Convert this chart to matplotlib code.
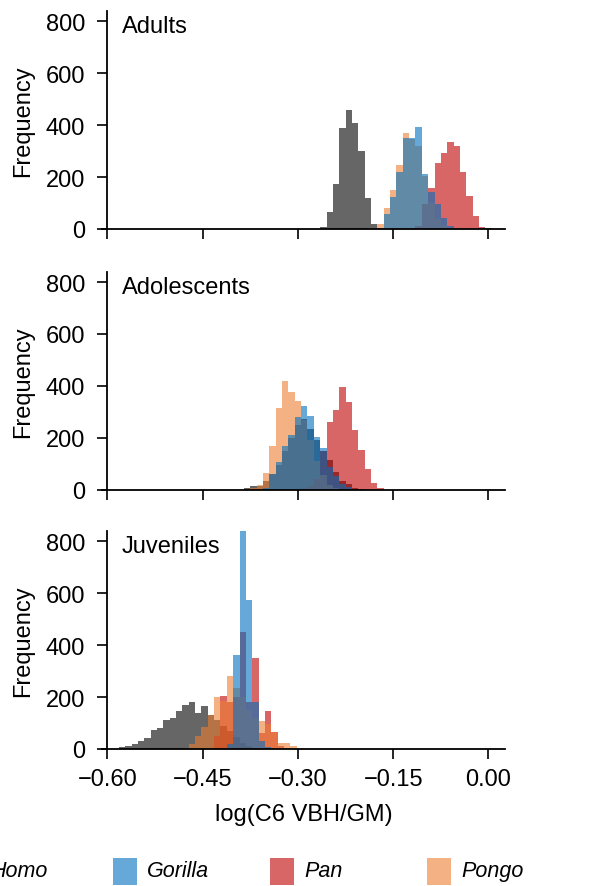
import numpy as np
import matplotlib
matplotlib.use("Agg")
import matplotlib.pyplot as plt
from matplotlib.patches import Rectangle

plt.rcParams['font.family'] = ['Liberation Sans', 'DejaVu Sans']

species = ["Homo", "Gorilla", "Pan", "Pongo"]
colors = {"Homo": "#000000", "Gorilla": "#0070C0", "Pan": "#C00000", "Pongo": "#ED7D31"}
draw_order = ["Homo", "Pan", "Pongo", "Gorilla"]
panel_names = ["Adults", "Adolescents", "Juveniles"]
bin_width = 0.01

# ---- Adults: bins start at -0.265 ----
adult_start = -0.265
adult_homo    = [7, 64, 173, 388, 460, 408, 302, 120, 19, 0, 0, 0, 0, 0, 0, 0, 0, 0, 0, 0, 0, 0, 0, 0, 0, 0, 0]
adult_pongo   = [0, 0, 0, 0, 0, 0, 0, 0, 4, 19, 81, 150, 246, 371, 347, 321, 203, 100, 40, 12, 3, 0, 0, 0, 0, 0, 0]
adult_gorilla = [0, 0, 0, 0, 0, 0, 0, 0, 0, 3, 58, 122, 221, 349, 350, 394, 212, 144, 96, 41, 13, 3, 0, 0, 0, 0, 0]
adult_pan     = [0, 0, 0, 0, 0, 0, 0, 0, 0, 0, 0, 0, 0, 2, 5, 13, 96, 158, 253, 293, 336, 321, 218, 128, 49, 9, 3]

# ---- Adolescents: bins start at -0.385 ----
adol_start = -0.385
adol_homo    = [5, 13, 15, 35, 60, 95, 150, 200, 250, 272, 235, 190, 150, 115, 67, 35, 22, 8, 3, 0, 0, 0]
adol_pongo   = [3, 8, 18, 64, 167, 313, 420, 378, 343, 270, 190, 110, 55, 20, 6, 0, 0, 0, 0, 0, 0, 0]
adol_gorilla = [0, 0, 0, 8, 60, 105, 167, 211, 279, 321, 285, 202, 159, 86, 54, 22, 9, 3, 0, 0, 0, 0]
adol_pan     = [0, 0, 0, 0, 0, 0, 0, 0, 0, 5, 15, 40, 150, 262, 308, 394, 337, 231, 154, 80, 26, 5]

# ---- Juveniles: bins start at -0.582 ----
juv_start = -0.582
juv_homo    = [6, 10, 19, 32, 41, 74, 80, 113, 118, 148, 169, 180, 139, 167, 131, 110, 90, 70, 45, 25, 12, 5, 0, 0, 0, 0, 0, 0, 0]
juv_pongo   = [0, 0, 0, 0, 0, 0, 0, 0, 0, 0, 0, 19, 51, 83, 131, 199, 186, 282, 235, 200, 150, 120, 109, 96, 64, 22, 22, 10, 4]
juv_gorilla = [0, 0, 0, 0, 0, 0, 0, 0, 0, 0, 0, 0, 0, 0, 0, 0, 0, 20, 363, 845, 574, 180, 30, 8, 0, 0, 0, 0, 0]
juv_pan     = [0, 0, 0, 0, 0, 0, 0, 0, 0, 0, 0, 0, 0, 0, 0, 50, 205, 180, 200, 450, 180, 349, 60, 145, 64, 10, 5, 0, 0]

panels = [
    (adult_start, {"Homo": adult_homo, "Gorilla": adult_gorilla, "Pan": adult_pan, "Pongo": adult_pongo}),
    (adol_start, {"Homo": adol_homo, "Gorilla": adol_gorilla, "Pan": adol_pan, "Pongo": adol_pongo}),
    (juv_start, {"Homo": juv_homo, "Gorilla": juv_gorilla, "Pan": juv_pan, "Pongo": juv_pongo}),
]

xticks = [-0.60, -0.45, -0.30, -0.15, 0.00]
yticks = [0, 200, 400, 600, 800]

W, H = 597, 887
fig = plt.figure(figsize=(W / 100, H / 100), dpi=100)

bottoms_px = [230, 490.7, 750]
ax_h_px = 218
left_px, width_px = 101.7, 403.3
FS = 17
LFS = 15.5

axes = []
for k, (start, data) in enumerate(panels):
    ax = fig.add_axes([left_px / W, (H - bottoms_px[k]) / H, width_px / W, ax_h_px / H])
    axes.append(ax)
    for sp in draw_order:
        counts = np.array(data[sp], dtype=float)
        edges = start + bin_width * np.arange(len(counts))
        m = counts > 0
        ax.bar(edges[m], counts[m], width=bin_width, align='edge',
               color=colors[sp], alpha=0.6, linewidth=0)
    ax.set_xlim(-0.609, 0.026)
    ax.set_ylim(0, 840)
    ax.spines['top'].set_visible(False)
    ax.spines['right'].set_visible(False)
    ax.spines['left'].set_position(('data', -0.60))
    for s in ['left', 'bottom']:
        ax.spines[s].set_linewidth(1.3)
    ax.set_xticks(xticks)
    ax.set_yticks(yticks)
    ax.tick_params(axis='both', direction='out', length=7, width=1.2, labelsize=FS)
    ax.tick_params(axis='y', pad=9)
    ax.tick_params(axis='x', pad=7)
    ax.set_ylabel("Frequency", fontsize=FS)
    ax.yaxis.set_label_coords(-0.195, 0.5)
    ax.yaxis.label.set_ha('center')
    ax.yaxis.label.set_va('center')
    ax.text(0.05, 0.929, panel_names[k], transform=ax.transAxes, fontsize=FS,
            ha='left', va='center')
    if k < 2:
        ax.tick_params(axis='x', labelbottom=False)
    else:
        ax.set_xticklabels([f"{t:.2f}".replace("-", "\u2212") for t in xticks])
        ax.set_xlabel("log(C6 VBH/GM)", fontsize=FS)
        ax.xaxis.set_label_coords(0.5, (bottoms_px[k] - 815) / ax_h_px)
        ax.xaxis.label.set_va('center')

# legend (manual, evenly spaced entries; first one runs off the left edge)
leg_x = [-44, 113, 270, 427]
leg_y_center = 872
for x0, sp in zip(leg_x, species):
    fig.add_artist(Rectangle((x0 / W, (H - leg_y_center - 13.5) / H), 23.5 / W, 27 / H,
                             transform=fig.transFigure, facecolor=colors[sp], alpha=0.6,
                             linewidth=0))
    fig.text((x0 + 34) / W, (H - leg_y_center) / H, sp, fontsize=LFS, style='italic',
             ha='left', va='center')

fig.savefig("out.png", dpi=100)
